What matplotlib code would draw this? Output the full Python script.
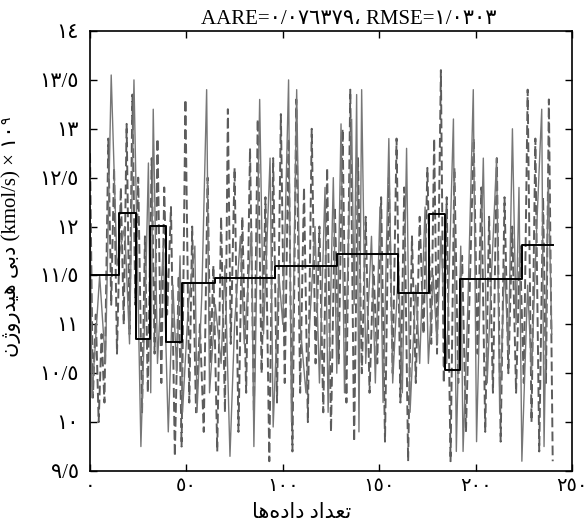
import numpy as np
import matplotlib
matplotlib.use("Agg")
import matplotlib.pyplot as plt

plt.rcParams['font.family'] = ['Liberation Serif', 'DejaVu Sans']

# =========================
# DATA
# =========================

# dashed series (turning points)
dash_x = [0, 1.5, 3, 4.5, 6, 7.5, 9.5, 11, 12.5, 14, 16, 17.5, 19, 20.5, 22, 23.5, 25, 27, 28.5, 30,
          32, 33.5, 35, 37, 38.5, 40, 42, 44, 46, 47.5, 49.5, 51.5, 53, 55, 57, 59, 61, 62.5, 64, 66,
          68, 70, 71.5, 73, 75, 77, 79, 81, 83, 85, 87, 89, 91, 93, 95, 97, 99, 101, 103, 105,
          107, 109, 111, 113, 115, 117, 119, 121, 123, 125, 127, 129, 131, 133, 135, 137, 139, 141, 143, 145,
          147, 149, 151, 153, 155, 157, 159, 161, 163, 165, 167, 169, 171, 173, 175, 177, 178.5, 180, 182, 183.5,
          185, 187, 189, 191, 193, 195, 197, 199, 201, 203, 205, 207, 209, 211, 213, 215, 217, 219, 221, 223,
          225, 227, 229, 231, 233, 235, 236.5, 238, 240]
dash_y = [12.75, 10.25, 11.1, 10.0, 10.9, 10.2, 12.9, 11.2, 12.6, 10.7, 12.4, 11.0, 13.05, 10.9, 13.35, 11.2, 12.5, 10.1, 11.9, 10.3,
          12.7, 10.7, 12.9, 10.4, 12.4, 11.1, 12.2, 9.65, 11.5, 9.75, 13.3, 10.2, 12.0, 10.1, 11.0, 9.9, 12.5, 10.6, 11.6, 9.7,
          12.1, 10.1, 13.2, 10.8, 12.6, 9.9, 12.1, 10.3, 12.8, 10.1, 13.1, 10.5, 12.3, 9.6, 12.7, 10.2, 13.15, 10.4, 12.9, 9.7,
          13.3, 10.3, 12.4, 10.0, 13.0, 10.6, 12.0, 10.1, 12.6, 9.9, 12.2, 10.6, 13.0, 10.2, 13.4, 9.8, 12.7, 10.5, 12.1, 10.3,
          11.6, 10.6, 12.3, 9.8, 12.5, 10.5, 12.9, 10.2, 12.4, 9.6, 11.9, 10.4, 12.1, 10.9, 12.6, 10.8, 12.9, 10.7, 13.6, 10.4,
          12.3, 9.6, 12.6, 10.4, 11.7, 9.9, 11.4, 12.9, 10.7, 12.4, 9.9, 12.1, 10.3, 12.7, 9.8, 12.3, 10.5, 12.0, 10.3, 11.8,
          10.4, 13.4, 10.0, 12.9, 9.7, 12.3, 10.4, 13.3, 9.6]

# solid thin series (turning points)
solid_x = [0, 1, 5, 8, 11, 14, 18, 20.5, 22.8, 26.4, 29, 30.3, 31.5, 32.8, 35, 38, 40.6, 43, 45, 46.7,
           48, 51, 54.4, 55.5, 58, 60.5, 62, 65, 68, 70, 72.6, 75, 78, 80, 83.8, 85, 88, 90, 93.4, 95,
           98, 100, 103, 104.5, 107.2, 109, 112, 116.7, 119, 121.9, 123.5, 126.2, 128, 130.2, 132, 135.7, 137, 138.3, 139.5, 140.9,
           143, 146, 148, 150.4, 152, 155, 157, 160, 162, 164.2, 166, 169, 171, 173.8, 175.5, 178, 180, 182, 185, 188.5,
           190, 192.3, 193.5, 196, 198.8, 200.5, 204, 206, 208, 210.9, 212.5, 215, 217, 219.1, 221, 222.5, 224, 227, 229, 231.5,
           234.3, 235.5, 237.7, 239.5]
solid_y = [12.2, 10.25, 11.5, 10.6, 13.55, 11.6, 12.0, 10.8, 13.5, 9.75, 11.5, 12.65, 10.3, 13.2, 10.6, 11.8, 9.9, 11.4, 10.5, 11.7,
           10.1, 11.2, 11.8, 10.1, 11.3, 13.4, 10.3, 11.2, 10.6, 11.6, 9.65, 11.0, 11.9, 10.8, 11.95, 9.75, 13.3, 10.9, 12.7, 9.95,
           11.5, 11.0, 13.5, 10.0, 13.4, 11.0, 10.3, 12.0, 10.4, 12.4, 10.1, 12.5, 10.5, 13.05, 10.3, 13.1, 11.2, 13.35, 9.9, 13.4,
           10.6, 11.9, 10.4, 12.2, 10.2, 12.9, 10.4, 11.6, 10.3, 12.8, 10.1, 11.4, 10.6, 12.2, 10.6, 11.5, 10.8, 11.9, 10.6, 13.1,
           9.7, 11.8, 9.7, 11.2, 13.4, 9.8, 12.7, 10.4, 11.4, 12.7, 10.1, 11.6, 10.7, 13.0, 11.0, 12.4, 9.6, 11.4, 10.5, 11.9,
           13.2, 9.75, 12.5, 10.9]

# model (step) series
step_edges = [0, 15, 24, 31, 39.5, 47.5, 65, 96, 128, 160, 176, 184, 192, 224, 240]
step_levels = [11.50, 12.14, 10.85, 12.01, 10.82, 11.42, 11.47, 11.60, 11.72, 11.32, 12.13, 10.53, 11.46, 11.81]

x_ticks = [0, 50, 100, 150, 200, 250]
x_ticklabels = ["٠", "٥٠", "١٠٠", "١٥٠", "٢٠٠", "٢٥٠"]
y_ticks = [9.5, 10, 10.5, 11, 11.5, 12, 12.5, 13, 13.5, 14]
y_ticklabels = ["٩/٥", "١٠", "١٠/٥", "١١", "١١/٥", "١٢", "١٢/٥", "١٣", "١٣/٥", "١٤"]

title_txt = "AARE=٠/٠٧٦٣٧٩، RMSE=١/٠٣٠٣"
# persian text written in visual order with joined letter forms
xlabel_txt = "\uFE8E\uFEEB\u0647\u062F\u0627\u062F \u062F\u0627\uFEAA\uFECC\uFE97"
ylabel_txt = "\u0646\u0698\u0648\u0631\uFEAA\uFEF4\uFEEB \uFEF0\uFE91\u062F (kmol/s) \u00d7 \u0661\u0660"
ylabel_sup = "\u0669"

# =========================
# PLOT
# =========================

fig = plt.figure(figsize=(5.85, 5.32), dpi=100)
ax = fig.add_axes([90 / 585, 1 - 471 / 532, 482 / 585, 440 / 532])

ax.plot(dash_x, dash_y, color="#5c5c5c", linewidth=1.4, linestyle=(0, (5, 2.2)))
ax.plot(solid_x, solid_y, color="#777777", linewidth=1.0)
ax.step(step_edges, step_levels + [step_levels[-1]], where="post", color="black", linewidth=1.4)

ax.set_xlim(0, 250)
ax.set_ylim(9.5, 14)
ax.set_xticks(x_ticks)
ax.set_xticklabels(x_ticklabels, fontsize=14)
ax.set_yticks(y_ticks)
ax.set_yticklabels(y_ticklabels, fontsize=15)
ax.tick_params(direction="in", length=5, top=True, right=True, width=1)
ax.tick_params(axis="x", pad=5)
ax.tick_params(axis="y", pad=8)
for s in ax.spines.values():
    s.set_linewidth(1.2)

ax.set_title(title_txt, fontsize=15, pad=5, x=(349 - 90) / 482)
ax.set_xlabel(xlabel_txt, fontsize=15)
ax.xaxis.set_label_coords((302 - 90) / 482, -0.074)
ax.set_ylabel(ylabel_txt, fontsize=15)
ax.yaxis.set_label_coords(-0.143, 0.523)

# superscript for the exponent of the y label
fig.canvas.draw()
bb = ax.yaxis.label.get_window_extent()
px, py = fig.transFigure.inverted().transform((bb.x0 - 1, bb.y1 + 1))
fig.text(px, py, ylabel_sup, rotation=90, fontsize=10, ha="left", va="bottom")

fig.savefig("out.png", dpi=100)
